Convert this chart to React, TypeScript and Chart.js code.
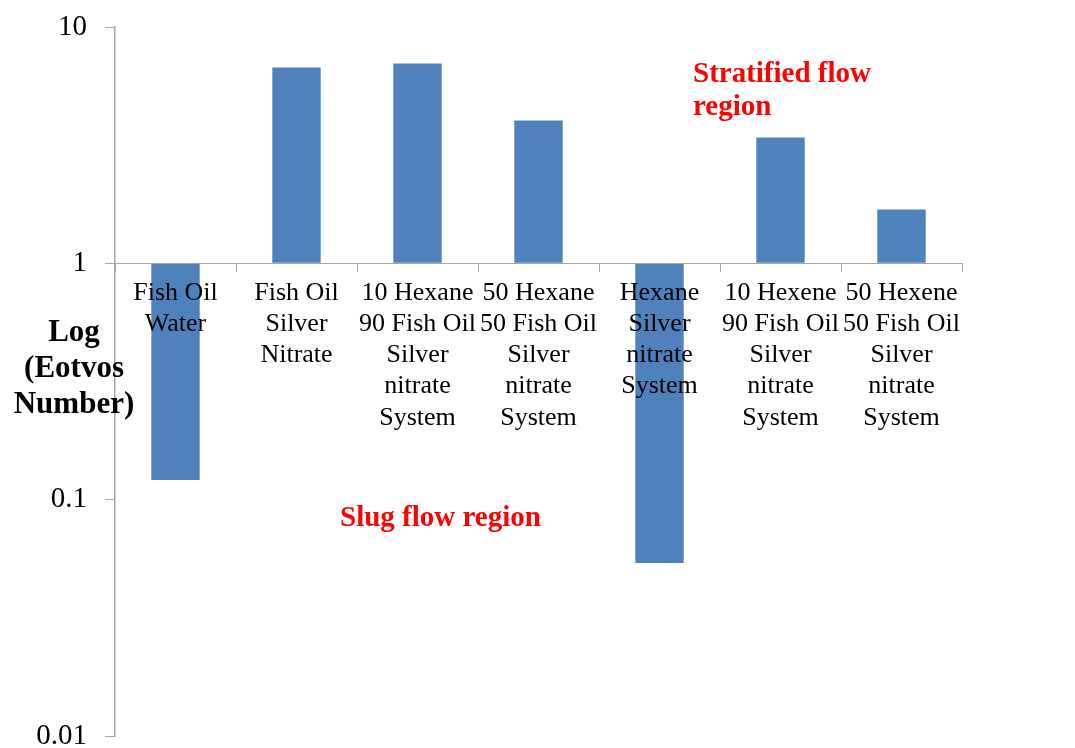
import React, { useEffect, useRef } from "react";
import { Chart, registerables } from "chart.js";

Chart.register(...registerables);

const categories: string[][] = [
  ["Fish Oil", "Water"],
  ["Fish Oil", "Silver", "Nitrate"],
  ["10 Hexane", "90 Fish Oil", "Silver", "nitrate", "System"],
  ["50 Hexane", "50 Fish Oil", "Silver", "nitrate", "System"],
  ["Hexane", "Silver", "nitrate", "System"],
  ["10 Hexene", "90 Fish Oil", "Silver", "nitrate", "System"],
  ["50 Hexene", "50 Fish Oil", "Silver", "nitrate", "System"],
];

const eotvosValues: number[] = [0.121, 6.74, 7.0, 4.02, 0.054, 3.41, 1.69];

const yTickValues: number[] = [0.01, 0.1, 1, 10];

const yTitleLines: string[] = ["Log", "(Eotvos", "Number)"];
const stratifiedLines: string[] = ["Stratified flow", "region"];
const slugLines: string[] = ["Slug flow region"];

const SERIF = "'Liberation Serif', 'Times New Roman', serif";
const AXIS_GRAY = "#a6a6a6";

export default function App() {
  const ref = useRef<HTMLCanvasElement>(null);

  useEffect(() => {
    if (!ref.current) return;

    const overlay = {
      id: "overlayText",
      afterDraw(chart: any) {
        const ctx = chart.ctx as CanvasRenderingContext2D;
        ctx.save();
        // Y axis title
        ctx.fillStyle = "#000";
        ctx.font = `bold 31px ${SERIF}`;
        ctx.textAlign = "center";
        ctx.textBaseline = "middle";
        yTitleLines.forEach((line, i) => {
          ctx.fillText(line, 74, 333 + i * 36);
        });
        // Annotations
        ctx.fillStyle = "#ff0000";
        ctx.font = `bold 29px ${SERIF}`;
        ctx.textAlign = "left";
        stratifiedLines.forEach((line, i) => {
          ctx.fillText(line, 693, 75 + i * 33);
        });
        slugLines.forEach((line, i) => {
          ctx.fillText(line, 340, 519 + i * 33);
        });
        ctx.restore();
      },
    };

    const chart = new Chart(ref.current, {
      type: "bar",
      data: {
        labels: categories as any,
        datasets: [
          {
            data: eotvosValues,
            base: 1,
            backgroundColor: "#4F81BD",
            borderWidth: 0,
            barPercentage: 0.4,
            categoryPercentage: 1,
          } as any,
        ],
      },
      options: {
        animation: false,
        responsive: false,
        maintainAspectRatio: false,
        layout: { padding: { top: 27, bottom: 12, left: 0, right: 113 } },
        plugins: {
          legend: { display: false },
          tooltip: { enabled: false },
          title: { display: false },
        },
        scales: {
          x: {
            position: { y: 1 } as any,
            grid: {
              drawOnChartArea: false,
              offset: true,
              tickLength: 8,
              color: AXIS_GRAY,
              lineWidth: 1,
              z: 1,
            },
            border: { color: AXIS_GRAY, width: 1, z: 1 },
            ticks: {
              autoSkip: false,
              maxRotation: 0,
              minRotation: 0,
              color: "#000",
              padding: 6,
              z: 2,
              font: { family: SERIF, size: 26, lineHeight: 1.2 },
            },
            afterFit(scale: any) {
              scale.paddingLeft = 0;
              scale.paddingRight = 0;
            },
          },
          y: {
            type: "logarithmic",
            min: 0.01,
            max: 10,
            afterBuildTicks(scale: any) {
              scale.ticks = yTickValues.map((v) => ({ value: v, major: true }));
            },
            afterFit(scale: any) {
              scale.width = 115;
              scale.paddingTop = 0;
              scale.paddingBottom = 0;
            },
            grid: {
              drawOnChartArea: false,
              tickLength: 10,
              color: AXIS_GRAY,
              lineWidth: 1,
            },
            border: { color: AXIS_GRAY, width: 1.5 },
            ticks: {
              color: "#000",
              padding: 18,
              font: { family: SERIF, size: 29 },
              callback: (v: any) => String(v),
            },
          },
        },
      } as any,
      plugins: [overlay],
    });

    return () => chart.destroy();
  }, []);

  return (
    <div
      style={{
        position: "fixed",
        left: 0,
        top: 0,
        width: 1075,
        height: 748,
        background: "#fff",
      }}
    >
      <canvas ref={ref} width={1075} height={748} />
    </div>
  );
}
